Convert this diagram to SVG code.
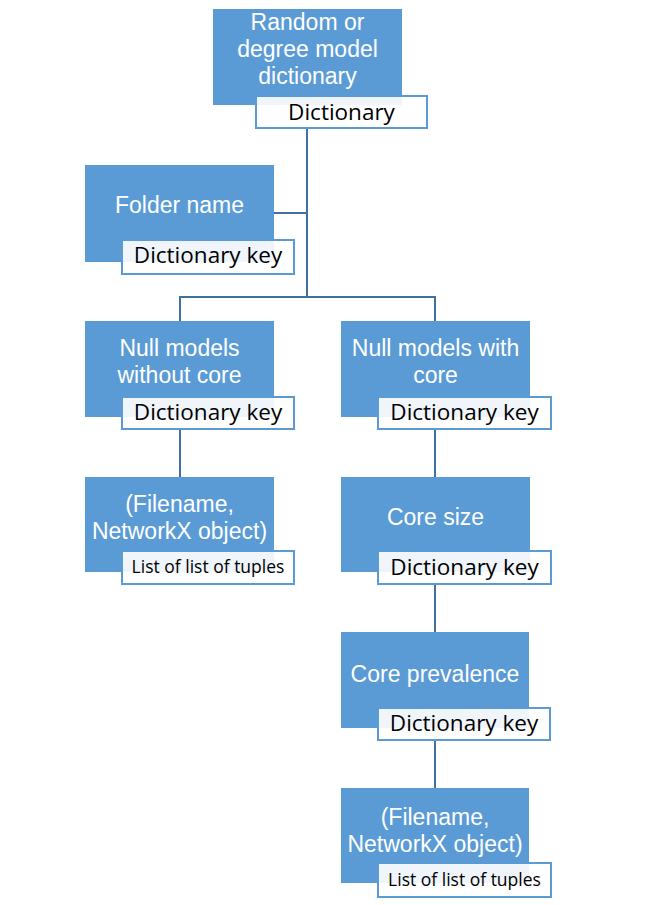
<svg xmlns="http://www.w3.org/2000/svg" width="646" height="905" viewBox="0 0 646 905">
<style>
.box{fill:#5B9BD5}
.lab{fill:#ffffff;fill-opacity:0.9;stroke:#5B9BD5;stroke-width:2}
.t{font-family:"Liberation Sans",Arial,sans-serif;font-size:23px;fill:#ffffff;text-anchor:middle}
.l{font-family:"Open Sans","Liberation Sans",sans-serif;font-size:22.5px;fill:#000000;text-anchor:middle}
.s{font-family:"Open Sans","Liberation Sans",sans-serif;font-size:17.5px;fill:#000000;text-anchor:middle}
.c{fill:none;stroke:#41719C;stroke-width:2}
</style>
<rect width="646" height="905" fill="#ffffff"/>
<g id="connectors">
<path class="c" d="M307 128V297"/>
<path class="c" d="M274 213H307"/>
<path class="c" d="M180 321V297H435V321"/>
<path class="c" d="M180 429V477"/>
<path class="c" d="M435 429V477"/>
<path class="c" d="M435 584V632"/>
<path class="c" d="M435 740V788"/>
</g>
<g id="root">
<rect class="box" x="213" y="9" width="189" height="96"/>
<text class="t" x="307.5" y="30">Random or</text>
<text class="t" x="307.5" y="57">degree model</text>
<text class="t" x="307.5" y="84">dictionary</text>
<rect class="lab" x="256" y="96" width="171" height="32"/>
<text class="l" x="341.5" y="120">Dictionary</text>
</g>
<g id="folder">
<rect class="box" x="85" y="165" width="189" height="97"/>
<text class="t" x="179.5" y="213">Folder name</text>
<rect class="lab" x="122" y="240" width="172" height="34"/>
<text class="l" x="208" y="263">Dictionary key</text>
</g>
<g id="nocore">
<rect class="box" x="85" y="321" width="189" height="96"/>
<text class="t" x="179.5" y="356">Null models</text>
<text class="t" x="179.5" y="383">without core</text>
<rect class="lab" x="122" y="397" width="172" height="32"/>
<text class="l" x="208" y="420">Dictionary key</text>
</g>
<g id="withcore">
<rect class="box" x="341" y="321" width="189" height="96"/>
<text class="t" x="435.5" y="356">Null models with</text>
<text class="t" x="435.5" y="383">core</text>
<rect class="lab" x="378" y="397" width="173" height="32"/>
<text class="l" x="464.5" y="420">Dictionary key</text>
</g>
<g id="files1">
<rect class="box" x="85" y="477" width="189" height="95"/>
<text class="t" x="179.5" y="512">(Filename,</text>
<text class="t" x="179.5" y="539">NetworkX object)</text>
<rect class="lab" x="122" y="551" width="172" height="33"/>
<text class="s" x="208" y="573">List of list of tuples</text>
</g>
<g id="coresize">
<rect class="box" x="341" y="477" width="189" height="95"/>
<text class="t" x="435.5" y="525">Core size</text>
<rect class="lab" x="378" y="551" width="173" height="33"/>
<text class="l" x="464.5" y="575">Dictionary key</text>
</g>
<g id="coreprev">
<rect class="box" x="341" y="632" width="188" height="96"/>
<text class="t" x="435" y="682">Core prevalence</text>
<rect class="lab" x="378" y="708" width="172" height="32"/>
<text class="l" x="464" y="731">Dictionary key</text>
</g>
<g id="files2">
<rect class="box" x="341" y="788" width="188" height="95"/>
<text class="t" x="435" y="825">(Filename,</text>
<text class="t" x="435" y="852">NetworkX object)</text>
<rect class="lab" x="378" y="863" width="173" height="34"/>
<text class="s" x="464.5" y="886">List of list of tuples</text>
</g>
</svg>
